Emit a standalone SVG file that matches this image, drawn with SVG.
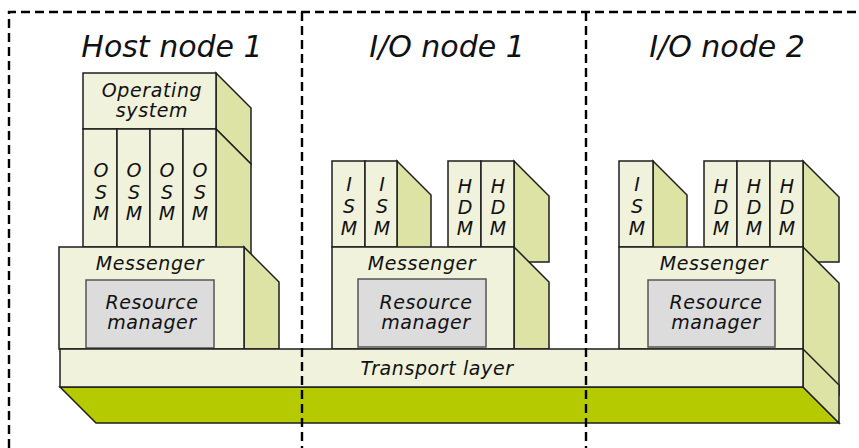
<svg xmlns="http://www.w3.org/2000/svg" width="859" height="448" viewBox="0 0 859 448">
  <style>
    .front { fill: #f0f2dc; stroke: #1e1e1e; stroke-width: 1.5; stroke-linejoin: miter; }
    .side { fill: #dce3a5; stroke: #1e1e1e; stroke-width: 1.5; stroke-linejoin: miter; }
    .floor { fill: #b5cb00; stroke: #1e1e1e; stroke-width: 1.5; }
    .rm { fill: #dcdcdc; stroke: #555555; stroke-width: 1.5; }
    .dash { fill: none; stroke: #000000; stroke-width: 2.4; stroke-dasharray: 9 5; }
    text { font-family: "DejaVu Sans", "Liberation Sans", sans-serif; font-style: italic; fill: #111111; text-anchor: middle; }
    .title { font-size: 30px; }
    .lbl { font-size: 19px; letter-spacing: 0.6px; }
    .ch { font-size: 19px; }
  </style>

  <rect width="859" height="448" fill="#ffffff"/>

  <!-- Host node 1 -->
  <g id="host-node-1">
    <text class="title" x="172" y="57">Host node 1</text>
    <g id="host-os">
      <polygon class="side" points="216,73 251,108 251,164 216,129"/>
      <rect class="front" x="83" y="73" width="133" height="56"/>
      <text class="lbl" x="152" y="97">Operating</text>
      <text class="lbl" x="152" y="117">system</text>
    </g>
    <g id="host-osm">
      <polygon class="side" points="216,129 251,164 251,262 216,262"/>
      <rect class="front" x="83" y="129" width="34" height="118"/>
      <rect class="front" x="117" y="129" width="33" height="118"/>
      <rect class="front" x="150" y="129" width="33" height="118"/>
      <rect class="front" x="183" y="129" width="33" height="118"/>
      <text class="ch" x="101" y="177">O</text><text class="ch" x="101" y="199">S</text><text class="ch" x="101" y="220">M</text>
      <text class="ch" x="134" y="177">O</text><text class="ch" x="134" y="199">S</text><text class="ch" x="134" y="220">M</text>
      <text class="ch" x="167" y="177">O</text><text class="ch" x="167" y="199">S</text><text class="ch" x="167" y="220">M</text>
      <text class="ch" x="200" y="177">O</text><text class="ch" x="200" y="199">S</text><text class="ch" x="200" y="220">M</text>
    </g>
    <g id="host-messenger">
      <polygon class="side" points="244,247 279,282 279,349 244,349"/>
      <rect class="front" x="59" y="247" width="185" height="102"/>
      <text class="lbl" x="150" y="270">Messenger</text>
      <rect class="rm" x="86" y="280" width="128" height="68"/>
      <text class="lbl" x="152" y="309">Resource</text>
      <text class="lbl" x="152" y="329">manager</text>
    </g>
  </g>

  <!-- I/O node 1 -->
  <g id="io-node-1">
    <text class="title" x="447" y="57">I/O node 1</text>
    <g id="io1-ism">
      <polygon class="side" points="397,161 431,195 431,262 397,262"/>
      <rect class="front" x="332" y="161" width="33" height="86"/>
      <rect class="front" x="365" y="161" width="32" height="86"/>
      <text class="ch" x="349" y="191">I</text><text class="ch" x="349" y="213">S</text><text class="ch" x="349" y="235">M</text>
      <text class="ch" x="382" y="191">I</text><text class="ch" x="382" y="213">S</text><text class="ch" x="382" y="235">M</text>
    </g>
    <g id="io1-hdm">
      <polygon class="side" points="514,161 549,196 549,262 514,262"/>
      <rect class="front" x="448" y="161" width="33" height="86"/>
      <rect class="front" x="481" y="161" width="33" height="86"/>
      <text class="ch" x="465" y="193">H</text><text class="ch" x="465" y="214">D</text><text class="ch" x="465" y="235">M</text>
      <text class="ch" x="498" y="193">H</text><text class="ch" x="498" y="214">D</text><text class="ch" x="498" y="235">M</text>
    </g>
    <g id="io1-messenger">
      <polygon class="side" points="514,247 549,282 549,349 514,349"/>
      <rect class="front" x="332" y="247" width="182" height="102"/>
      <text class="lbl" x="422" y="270">Messenger</text>
      <rect class="rm" x="358" y="279" width="128" height="68"/>
      <text class="lbl" x="426" y="309">Resource</text>
      <text class="lbl" x="426" y="329">manager</text>
    </g>
  </g>

  <!-- I/O node 2 -->
  <g id="io-node-2">
    <text class="title" x="727" y="57">I/O node 2</text>
    <g id="io2-ism">
      <polygon class="side" points="653,161 687,195 687,262 653,262"/>
      <rect class="front" x="619" y="161" width="34" height="86"/>
      <text class="ch" x="637" y="191">I</text><text class="ch" x="637" y="213">S</text><text class="ch" x="637" y="235">M</text>
    </g>
    <g id="io2-hdm">
      <polygon class="side" points="803,161 839,197 839,262 803,262"/>
      <rect class="front" x="704" y="161" width="33" height="86"/>
      <rect class="front" x="737" y="161" width="33" height="86"/>
      <rect class="front" x="770" y="161" width="33" height="86"/>
      <text class="ch" x="721" y="193">H</text><text class="ch" x="721" y="214">D</text><text class="ch" x="721" y="235">M</text>
      <text class="ch" x="754" y="193">H</text><text class="ch" x="754" y="214">D</text><text class="ch" x="754" y="235">M</text>
      <text class="ch" x="787" y="193">H</text><text class="ch" x="787" y="214">D</text><text class="ch" x="787" y="235">M</text>
    </g>
    <g id="io2-messenger">
      <polygon class="side" points="803,247 839,283 839,395 803,395"/>
      <rect class="front" x="619" y="247" width="184" height="102"/>
      <text class="lbl" x="714" y="270">Messenger</text>
      <rect class="rm" x="648" y="280" width="127" height="67"/>
      <text class="lbl" x="716" y="309">Resource</text>
      <text class="lbl" x="716" y="329">manager</text>
    </g>
  </g>

  <!-- Transport layer slab -->
  <g id="transport-layer">
    <polygon class="floor" points="60,387 803,387 839,423 96,423"/>
    <polygon class="side" points="803,349 839,385 839,423 803,387"/>
    <rect class="front" x="60" y="349" width="743" height="38"/>
    <text class="lbl" x="437" y="375">Transport layer</text>
  </g>

  <!-- Node boundaries -->
  <g id="boundaries">
    <path class="dash" d="M9,448 V12 H859"/>
    <path class="dash" d="M302,12 V448"/>
    <path class="dash" d="M586,12 V448"/>
  </g>
</svg>
